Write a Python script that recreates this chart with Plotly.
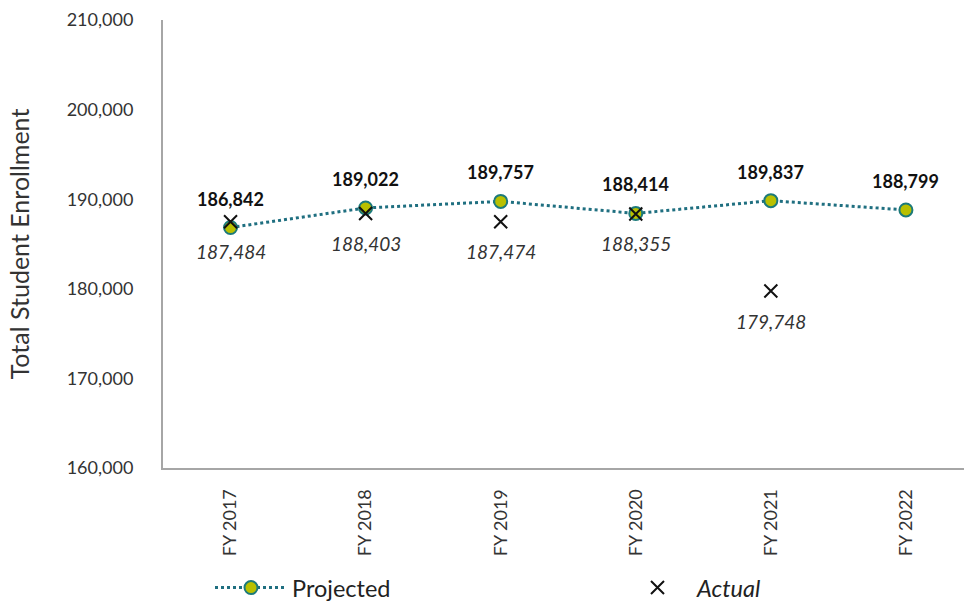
import plotly.graph_objects as go

years = ["FY 2017", "FY 2018", "FY 2019", "FY 2020", "FY 2021", "FY 2022"]
projected = [186842, 189022, 189757, 188414, 189837, 188799]
actual_years = ["FY 2017", "FY 2018", "FY 2019", "FY 2020", "FY 2021"]
actual = [187484, 188403, 187474, 188355, 179748]

FONT = "Lato"
fig = go.Figure()

fig.add_trace(go.Scatter(
    x=years, y=projected, mode="lines+markers", name="Projected", legend="legend",
    line=dict(color="#1f6f80", width=3, dash="dot"),
    marker=dict(symbol="circle", size=13, color="#b9c000",
                line=dict(color="#1c7a7a", width=2)),
))
fig.add_trace(go.Scatter(
    x=actual_years, y=actual, mode="markers", name="<i>Actual</i>", legend="legend2",
    marker=dict(symbol="x-thin", size=13, color="#111111",
                line=dict(color="#111111", width=2)),
))

for x, y in zip(years, projected):
    fig.add_annotation(x=x, y=y, text=f"<b>{y:,}</b>", showarrow=False,
                       yshift=29, font=dict(family=FONT, size=18, color="#111111"))
for x, y in zip(actual_years, actual):
    fig.add_annotation(x=x, y=y, text=f"<i>{y:,}</i>", showarrow=False,
                       yshift=-30, font=dict(family=FONT, size=19, color="#333333"))

legend_common = dict(orientation="h", xref="container", yref="container",
                     yanchor="middle", xanchor="left", y=0.022,
                     font=dict(family=FONT, size=23.5, color="#222222"),
                     bgcolor="rgba(0,0,0,0)")

fig.update_layout(
    width=964, height=601,
    margin=dict(l=163, r=0, t=20, b=133),
    paper_bgcolor="white", plot_bgcolor="white",
    font=dict(family=FONT, size=18, color="#333333"),
    showlegend=True,
    legend=dict(x=210 / 964, itemwidth=72, **legend_common),
    legend2=dict(x=618 / 964, itemwidth=69, **legend_common),
)
fig.update_xaxes(
    type="category", range=[-0.5, 5.43], showgrid=False, zeroline=False,
    showline=True, linecolor="#a6a6a6", linewidth=2, ticks="", automargin=False,
    tickangle=-90, ticklabelstandoff=12,
    tickfont=dict(family=FONT, size=18, color="#333333"),
)
fig.update_yaxes(
    range=[160000, 210000], dtick=10000, tickformat=",", showgrid=False,
    zeroline=False, showline=True, linecolor="#a6a6a6", linewidth=2, ticks="",
    ticklabelstandoff=24, automargin=False,
    title=dict(text="Total Student Enrollment", font=dict(family=FONT, size=25, color="#333333"),
               standoff=30),
    tickfont=dict(family=FONT, size=18, color="#333333"),
)

fig.write_html("out.html")
